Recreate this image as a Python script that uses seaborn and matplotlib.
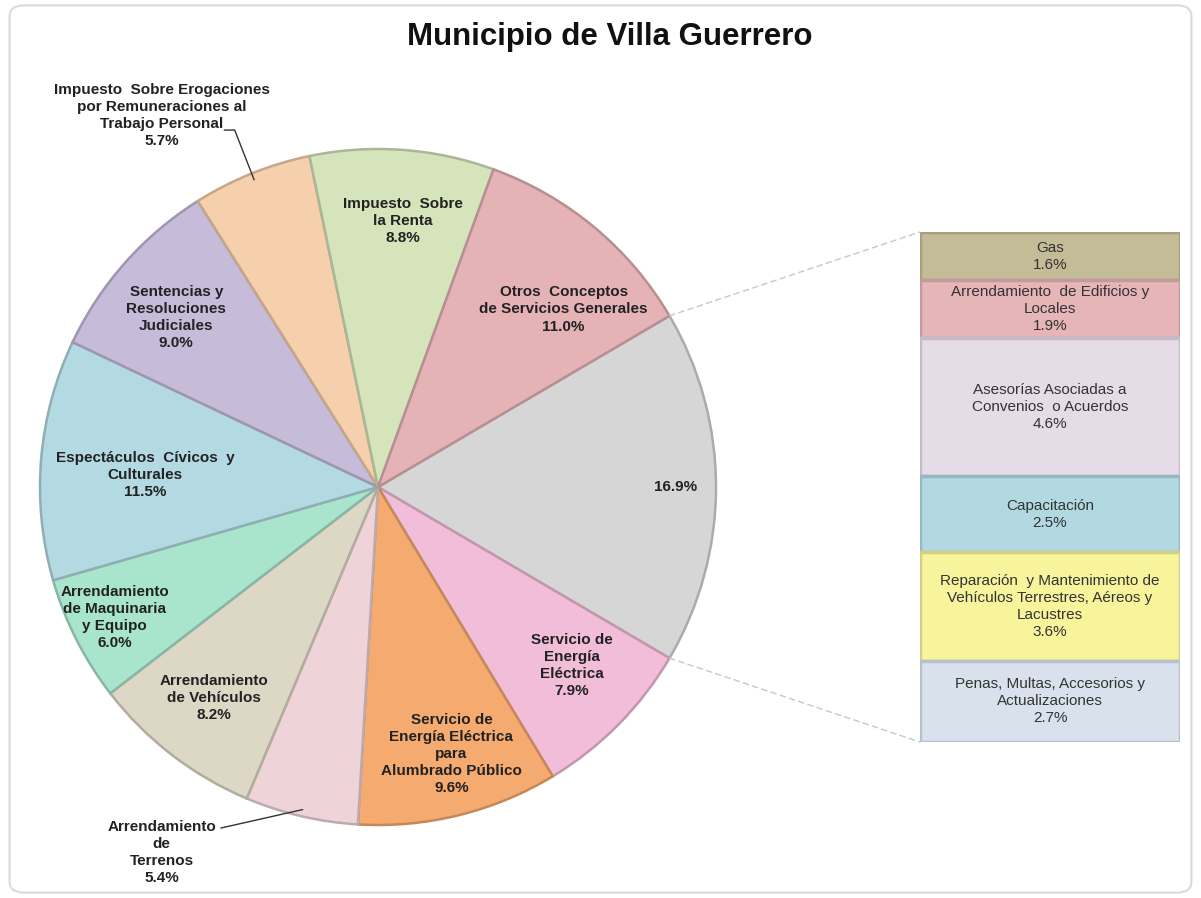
import matplotlib
matplotlib.use("Agg")
import matplotlib.pyplot as plt
import matplotlib.colors as mcolors
from matplotlib.patches import ConnectionPatch, FancyBboxPatch
import numpy as np
import seaborn as sns

# ---------------- data ----------------
title = "Municipio de Villa Guerrero"

pie_labels = [
    "",
    "Servicio de\nEnergía\nEléctrica",
    "Servicio de\nEnergía Eléctrica\npara\nAlumbrado Público",
    "Arrendamiento\nde\nTerrenos",
    "Arrendamiento\nde Vehículos",
    "Arrendamiento\nde Maquinaria\ny Equipo",
    "Espectáculos  Cívicos  y\nCulturales",
    "Sentencias y\nResoluciones\nJudiciales",
    "Impuesto  Sobre Erogaciones\npor Remuneraciones al\nTrabajo Personal",
    "Impuesto  Sobre\nla Renta",
    "Otros  Conceptos\nde Servicios Generales",
]
pie_values = [16.9, 7.9, 9.6, 5.4, 8.2, 6.0, 11.5, 9.0, 5.7, 8.8, 11.0]

bar_labels = [
    "Gas",
    "Arrendamiento  de Edificios y\nLocales",
    "Asesorías Asociadas a\nConvenios  o Acuerdos",
    "Capacitación",
    "Reparación  y Mantenimiento de\nVehículos Terrestres, Aéreos y\nLacustres",
    "Penas, Multas, Accesorios y\nActualizaciones",
]
bar_values = [1.6, 1.9, 4.6, 2.5, 3.6, 2.7]

# ---------------- styles ----------------
pie_colors = ["#d6d6d6", "#f2bdd8", "#f5aa6f", "#eed3d9", "#ddd7c5", "#a9e5cd",
              "#b3dae3", "#c6bcda", "#f6cfac", "#d5e4bb", "#e5b3b6"]
bar_colors = ["#c4bc96", "#e6b5b8", "#e5dce8", "#b2d9e2", "#f8f49c", "#d9e2ec"]

# label placement: (radius fraction, angle offset in degrees); None -> outside label
label_r = [0.88, 0.78, 0.82, None, 0.79, 0.87, 0.69, 0.78, None, 0.79, 0.76]
label_dang = [0, 2, 1.5, 0, -0.3, -0.4, 1.7, 1.5, 0, -1.2, -6.5]
# outside labels: text centre and leader start (pie data units)
outside_text = {3: (-0.64, -1.082), 8: (-0.64, 1.098)}
outside_leader = {3: [(-0.465, -1.009)], 8: [(-0.455, 1.056), (-0.424, 1.056)]}

sns.set_theme(style="white")
plt.rcParams["font.family"] = ["Liberation Sans", "DejaVu Sans"]

W, H = 1201, 898
fig = plt.figure(figsize=(W / 100, H / 100), dpi=100)
fig.patch.set_facecolor("white")

# rounded frame
fig.patches.append(FancyBboxPatch((0.008, 0.006), 0.984, 0.988,
                                  boxstyle="round,pad=0,rounding_size=0.012",
                                  transform=fig.transFigure, facecolor="none",
                                  edgecolor="#dadada", lw=1.5))

fig.text(0.508, 0.959, title, ha="center", va="center", fontsize=22.5,
         fontweight="bold", color="#111111")


def darker(c, f=0.8):
    r, g, b = mcolors.to_rgb(c)
    return (r * f, g * f, b * f)


# ---------------- pie ----------------
cx, cy, rad = 378, H - 487, 338
half = 1.1 * rad
ax_pie = fig.add_axes([(cx - half) / W, (cy - half) / H, 2 * half / W, 2 * half / H])
start = pie_values[0] / sum(pie_values) * 360 / 2
wedges, _ = ax_pie.pie(pie_values, colors=pie_colors, startangle=start,
                       counterclock=False, radius=1.0,
                       wedgeprops=dict(linewidth=1.8))
for w, c in zip(wedges, pie_colors):
    w.set_edgecolor(darker(c, 0.8))
ax_pie.set_xlim(-1.1, 1.1)
ax_pie.set_ylim(-1.1, 1.1)
ax_pie.set_aspect("equal")
ax_pie.axis("off")

lab_font = dict(fontweight="bold", fontsize=11, color="#222222", linespacing=1.28)
for i, (w, lab, v) in enumerate(zip(wedges, pie_labels, pie_values)):
    mid = (w.theta1 + w.theta2) / 2
    txt = (lab + "\n" if lab else "") + f"{v:.1f}%"
    if label_r[i] is not None:
        a = np.deg2rad(mid + label_dang[i])
        ax_pie.text(label_r[i] * np.cos(a), label_r[i] * np.sin(a), txt,
                    ha="center", va="center", **lab_font)
    else:
        tx, ty = outside_text[i]
        ax_pie.text(tx, ty, txt, ha="center", va="center", **lab_font)
        a = np.deg2rad(mid)
        pts = outside_leader[i] + [(0.98 * np.cos(a), 0.98 * np.sin(a))]
        xs, ys = zip(*pts)
        ax_pie.plot(xs, ys, color="#333333", lw=1.0, clip_on=False)

# ---------------- bar ----------------
ax_bar = fig.add_axes([920 / W, (H - 742) / H, 260 / W, 510 / H])
bottoms = np.concatenate([[0], np.cumsum(bar_values)[:-1]])
ax_bar.bar([0] * len(bar_values), bar_values, bottom=bottoms, width=1.0,
           color=bar_colors, edgecolor=[darker(c, 0.85) for c in bar_colors],
           linewidth=2.5)
for lab, v, b in zip(bar_labels, bar_values, bottoms):
    ax_bar.text(0, b + v / 2, f"{lab}\n{v:.1f}%", ha="center", va="center",
                fontsize=11, color="#333333", linespacing=1.28)
ax_bar.set_xlim(-0.5, 0.5)
ax_bar.set_ylim(sum(bar_values), 0)
ax_bar.axis("off")

# connector lines
w0 = wedges[0]
for ang, yb in ((max(w0.theta1, w0.theta2), 1), (min(w0.theta1, w0.theta2), 0)):
    a = np.deg2rad(ang)
    con = ConnectionPatch(xyA=(np.cos(a), np.sin(a)), coordsA=ax_pie.transData,
                          xyB=(0, yb), coordsB=ax_bar.transAxes,
                          color="#c8c8c8", lw=1.0, linestyle=(0, (4, 3)))
    fig.add_artist(con)

fig.savefig("out.png", dpi=100, facecolor="white")
